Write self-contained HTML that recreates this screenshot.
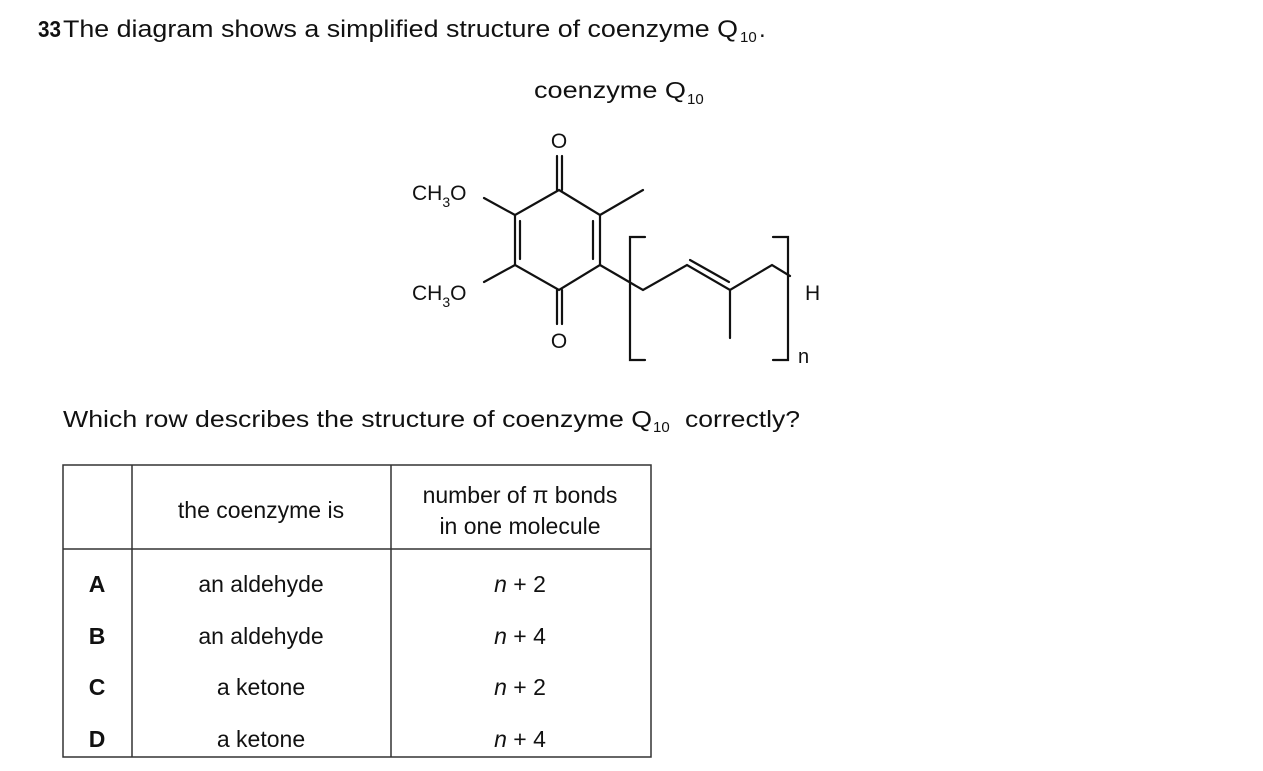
<!DOCTYPE html>
<html><head><meta charset="utf-8"><style>
html,body{margin:0;padding:0;background:#fff;}
svg{display:block;}
text{font-family:"Liberation Sans",Arial,sans-serif;fill:#111;}
</style></head><body>
<svg width="1263" height="771" viewBox="0 0 1263 771" xmlns="http://www.w3.org/2000/svg">
<text x="38" y="37" font-size="23" font-weight="bold" textLength="23" lengthAdjust="spacingAndGlyphs">33</text>
<text x="63" y="37" font-size="24" textLength="675" lengthAdjust="spacingAndGlyphs">The diagram shows a simplified structure of coenzyme Q</text>
<text x="740" y="42" font-size="15">10</text><text x="759" y="37" font-size="24">.</text>

<text x="534" y="98" font-size="23" textLength="152" lengthAdjust="spacingAndGlyphs">coenzyme Q</text>
<text x="687" y="104" font-size="15">10</text>

<g stroke="#111" stroke-width="2.2" fill="none" stroke-linecap="round">
<polyline points="559,190 600,215 600,265 559,290 515,265 515,215 559,190"/>
<line x1="520" y1="221" x2="520" y2="259"/>
<line x1="593" y1="221" x2="593" y2="259"/>
<line x1="557" y1="190" x2="557" y2="156"/><line x1="562" y1="190" x2="562" y2="156"/>
<line x1="557" y1="290" x2="557" y2="324"/><line x1="562" y1="290" x2="562" y2="324"/>
<line x1="600" y1="215" x2="643" y2="190"/>
<line x1="515" y1="215" x2="484" y2="198"/>
<line x1="515" y1="265" x2="484" y2="282"/>
<polyline points="600,265 643,290 687,265 730,290 772,265 790,276"/>
<line x1="690" y1="260" x2="729" y2="282"/>
<line x1="730" y1="290" x2="730" y2="338"/>
<polyline points="645,237 630,237 630,360 645,360"/>
<polyline points="773,237 788,237 788,360 773,360"/>
</g>
<text x="559" y="148" font-size="21" text-anchor="middle">O</text>
<text x="559" y="348" font-size="21" text-anchor="middle">O</text>
<text x="412" y="200" font-size="21">CH<tspan font-size="14" dy="7">3</tspan><tspan dy="-7">O</tspan></text>
<text x="412" y="300" font-size="21">CH<tspan font-size="14" dy="7">3</tspan><tspan dy="-7">O</tspan></text>
<text x="805" y="300" font-size="21">H</text>
<text x="798" y="363" font-size="20">n</text>

<text x="63" y="427" font-size="23" textLength="589" lengthAdjust="spacingAndGlyphs">Which row describes the structure of coenzyme Q</text>
<text x="653" y="432" font-size="15">10</text>
<text x="685" y="427" font-size="23" textLength="115" lengthAdjust="spacingAndGlyphs">correctly?</text>

<g stroke="#333" stroke-width="1.5" fill="none">
<rect x="63" y="465" width="588" height="292"/>
<line x1="132" y1="465" x2="132" y2="757"/>
<line x1="391" y1="465" x2="391" y2="757"/>
<line x1="63" y1="549" x2="651" y2="549"/>
</g>
<g font-size="23" text-anchor="middle">
<text x="261" y="518">the coenzyme is</text>
<text x="520" y="503">number of π bonds</text>
<text x="520" y="534">in one molecule</text>
<text x="97" y="592" font-weight="bold">A</text>
<text x="97" y="644" font-weight="bold">B</text>
<text x="97" y="695" font-weight="bold">C</text>
<text x="97" y="747" font-weight="bold">D</text>
<text x="261" y="592">an aldehyde</text>
<text x="261" y="644">an aldehyde</text>
<text x="261" y="695">a ketone</text>
<text x="261" y="747">a ketone</text>
<text x="520" y="592"><tspan font-style="italic">n</tspan> + 2</text>
<text x="520" y="644"><tspan font-style="italic">n</tspan> + 4</text>
<text x="520" y="695"><tspan font-style="italic">n</tspan> + 2</text>
<text x="520" y="747"><tspan font-style="italic">n</tspan> + 4</text>
</g>
</svg>
</body></html>
